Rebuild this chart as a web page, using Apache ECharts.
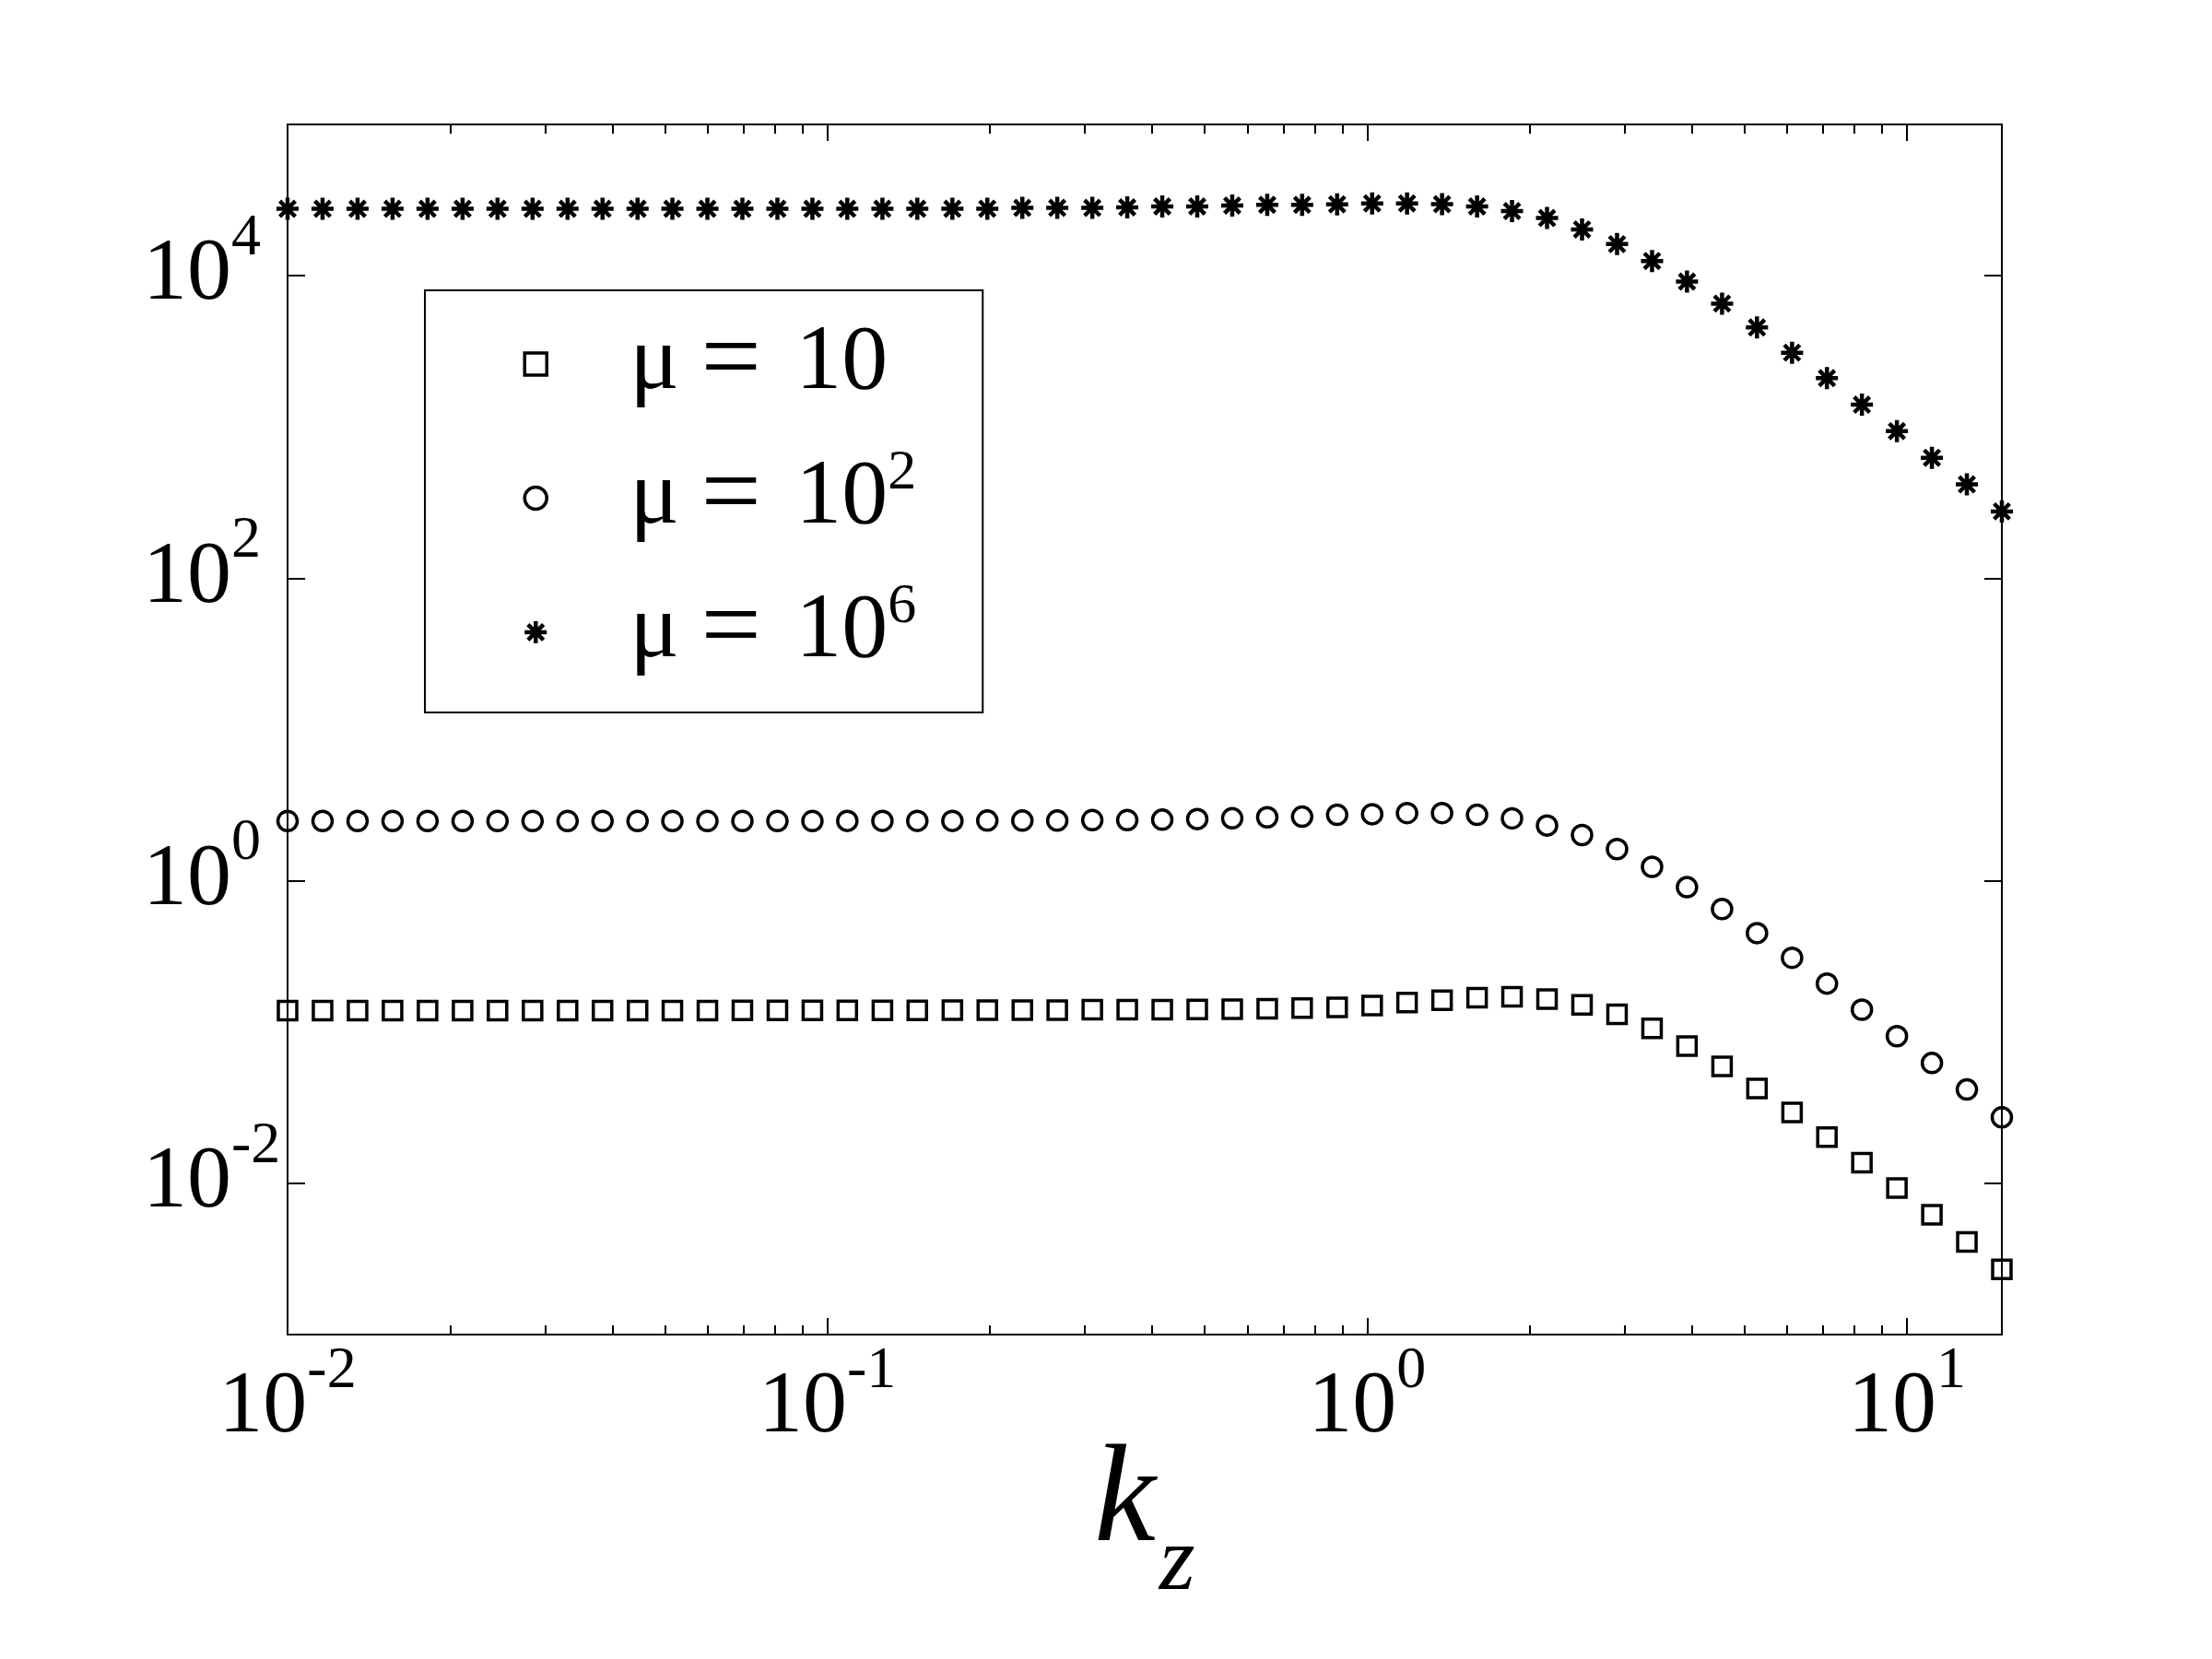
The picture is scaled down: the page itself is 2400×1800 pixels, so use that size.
<!DOCTYPE html>
<html>
<head>
<meta charset="utf-8">
<title>k_z scan</title>
<script src="https://cdn.jsdelivr.net/npm/echarts@6/dist/echarts.min.js"></script>
<style>
  html, body { margin: 0; padding: 0; background: #fff; }
  #chart { width: 2400px; height: 1800px; }
</style>
</head>
<body>
<div id="chart"></div>
<script>
// 横轴采样点 k_z
const kz = [0.01, 0.01161, 0.01348, 0.01565, 0.01817, 0.02110, 0.02449, 0.02844, 0.03302, 0.03833,
    0.04451, 0.05164, 0.05996, 0.06961, 0.08083, 0.09384, 0.1089, 0.1265, 0.1468, 0.1705,
    0.1979, 0.2298, 0.2667, 0.3097, 0.3595, 0.4174, 0.4846, 0.5626, 0.6532, 0.7581,
    0.8802, 1.022, 1.186, 1.377, 1.599, 1.856, 2.155, 2.502, 2.905, 3.373,
    3.915, 4.547, 5.277, 6.129, 7.112, 8.257, 9.586, 11.13, 12.92, 15.0];

// μ = 10 (方块)
const mu10 = [0.1387, 0.1387, 0.1387, 0.1387, 0.1387, 0.1387, 0.1387, 0.1387, 0.1387, 0.1387,
    0.1387, 0.1387, 0.1387, 0.1390, 0.1390, 0.1390, 0.1390, 0.1390, 0.1390, 0.1396,
    0.1396, 0.1396, 0.1396, 0.1403, 0.1403, 0.1403, 0.1409, 0.1413, 0.1426, 0.1442,
    0.1457, 0.1498, 0.1564, 0.1623, 0.1685, 0.1713, 0.1650, 0.1514, 0.1310, 0.1057,
    0.0808, 0.0594, 0.0424, 0.0294, 0.0202, 0.0137, 0.00931, 0.00619, 0.00409, 0.00270];

// μ = 10^2 (圆圈)
const mu100 = [2.483, 2.483, 2.483, 2.483, 2.483, 2.483, 2.483, 2.483, 2.483, 2.483,
    2.483, 2.483, 2.483, 2.483, 2.483, 2.483, 2.489, 2.489, 2.489, 2.489,
    2.500, 2.500, 2.500, 2.518, 2.518, 2.535, 2.559, 2.588, 2.627, 2.653,
    2.729, 2.755, 2.801, 2.801, 2.729, 2.584, 2.319, 2.007, 1.620, 1.237,
    0.9066, 0.6497, 0.4510, 0.3096, 0.2091, 0.1405, 0.0939, 0.0624, 0.0417, 0.0273];

// μ = 10^6 (星号)
const mu1e6 = [27670, 27670, 27670, 27670, 27670, 27670, 27670, 27670, 27670, 27670,
    27670, 27670, 27670, 27670, 27670, 27670, 27670, 27670, 27670, 27670,
    27730, 28050, 28050, 28050, 28310, 28710, 28710, 29110, 29380, 29380,
    29650, 30060, 30060, 29670, 28700, 26770, 24040, 20230, 16170, 12510,
    9152, 6541, 4546, 3099, 2105, 1403, 938.9, 625.8, 417.0, 276.5];

const seriesNames = ['mu10', 'mu100', 'mu1e6'];
const legendExp = ['', '2', '6'];

// 刻度
const xMajorTicks = [0.01, 0.1, 1, 10];
const xMajorExp = ['-2', '-1', '0', '1'];
const xMinorTicks = [0.02, 0.03, 0.04, 0.05, 0.06, 0.07, 0.08, 0.09,
    0.2, 0.3, 0.4, 0.5, 0.6, 0.7, 0.8, 0.9,
    2, 3, 4, 5, 6, 7, 8, 9];
const yMajorTicks = [0.01, 1, 100, 10000];
const yMajorExp = ['-2', '0', '2', '4'];

const FONT = 'Liberation Serif';
const BLACK = '#000';

// 上标: 用 padding 把指数抬高
const tickRich = {
    b: { fontFamily: FONT, fontSize: 96, color: BLACK },
    s: { fontFamily: FONT, fontSize: 64, padding: [0, 0, 80, 0], color: BLACK }
};

function powLabel(ticks, exps) {
    return function (v) {
        const i = ticks.findIndex(t => Math.abs(Math.log10(t) - Math.log10(v)) < 1e-6);
        if (i < 0) return '';
        return '{b|10}{s|' + exps[i] + '}';
    };
}

function frameAxis(position, ticks, len, showLine) {
    return {
        type: 'log',
        position: position,
        axisLine: { show: showLine, onZero: false, lineStyle: { color: BLACK, width: 2 } },
        axisTick: { show: true, inside: true, length: len, customValues: ticks, lineStyle: { color: BLACK, width: 2 } },
        axisLabel: { show: false },
        splitLine: { show: false },
        minorTick: { show: false }
    };
}

const xBase = { min: 0.01, max: 15, logBase: 10 };
const yBase = { min: 0.001, max: 100000, logBase: 10 };

const xAxisMain = Object.assign(frameAxis('bottom', xMajorTicks, 18, true), xBase, {
    axisLabel: {
        show: true,
        customValues: xMajorTicks,
        formatter: powLabel(xMajorTicks, xMajorExp),
        margin: 8,
        rich: tickRich
    },
    name: '{k|k}{z|z}',
    nameLocation: 'middle',
    nameGap: 68,
    nameMoveOverlap: false,
    nameTextStyle: {
        rich: {
            k: { fontFamily: FONT, fontStyle: 'italic', fontSize: 150, color: BLACK },
            z: { fontFamily: FONT, fontStyle: 'italic', fontSize: 100, padding: [132, 0, 0, 4], color: BLACK }
        }
    }
});

const yAxisMain = Object.assign(frameAxis('left', yMajorTicks, 19, true), yBase, {
    axisLabel: {
        show: true,
        customValues: yMajorTicks,
        formatter: powLabel(yMajorTicks, yMajorExp),
        margin: 157,
        align: 'left',
        rich: tickRich
    }
});

const symbolSquare = 'path://M0 0H20V20H0Z';
const symbolStar = 'path://M10 0L10 20M0 10L20 10M3 3L17 17M3 17L17 3';

const markerStyle = [
    { symbol: symbolSquare, symbolSize: 20, borderWidth: 3.5 },
    { symbol: 'circle', symbolSize: 21, borderWidth: 3.5 },
    { symbol: symbolStar, symbolSize: 24, borderWidth: 4.5 }
];
const seriesData = [mu10, mu100, mu1e6];

const legendRich = {
    m: { fontFamily: FONT, fontSize: 100, lineHeight: 116, width: 40, align: 'left', color: BLACK },
    e: { fontFamily: FONT, fontSize: 116, lineHeight: 116, width: 140, align: 'center', color: BLACK },
    n: { fontFamily: FONT, fontSize: 100, lineHeight: 116, color: BLACK },
    s: { fontFamily: FONT, fontSize: 62, padding: [0, 0, 54, 0], color: BLACK }
};

const chart = echarts.init(document.getElementById('chart'), null, { renderer: 'canvas' });

chart.setOption({
    backgroundColor: '#fff',
    animation: false,
    grid: { left: 312, right: 228, top: 135, bottom: 352, containLabel: false, outerBoundsMode: 'none' },
    xAxis: [
        xAxisMain,
        Object.assign(frameAxis('bottom', xMinorTicks, 10, false), xBase),
        Object.assign(frameAxis('top', xMajorTicks, 18, true), xBase),
        Object.assign(frameAxis('top', xMinorTicks, 10, false), xBase)
    ],
    yAxis: [
        yAxisMain,
        Object.assign(frameAxis('right', yMajorTicks, 19, true), yBase)
    ],
    legend: {
        orient: 'vertical',
        left: 461,
        top: 315,
        selectedMode: false,
        itemWidth: 194,
        itemHeight: 24,
        itemGap: 29.5,
        symbolKeepAspect: true,
        padding: [22, 72, 29, 106],
        borderColor: BLACK,
        borderWidth: 2,
        borderRadius: 0,
        backgroundColor: '#fff',
        data: seriesNames.map((name, k) => ({
            name: name,
            itemStyle: { color: 'rgba(0,0,0,0)', borderColor: BLACK, borderWidth: markerStyle[k].borderWidth }
        })),
        formatter: function (name) {
            const i = seriesNames.indexOf(name);
            const sup = legendExp[i] ? '{s|' + legendExp[i] + '}' : '';
            return '{m|μ}{e|=}{n|10}' + sup;
        },
        textStyle: { color: BLACK, rich: legendRich }
    },
    series: seriesNames.map((name, k) => ({
        type: 'scatter',
        name: name,
        xAxisIndex: 0,
        yAxisIndex: 0,
        symbol: markerStyle[k].symbol,
        symbolSize: markerStyle[k].symbolSize,
        symbolKeepAspect: true,
        itemStyle: { color: 'rgba(0,0,0,0)', borderColor: BLACK, borderWidth: markerStyle[k].borderWidth, opacity: 1 },
        emphasis: { disabled: true },
        silent: true,
        data: kz.map((x, i) => [x, seriesData[k][i]])
    }))
});
</script>
</body>
</html>
